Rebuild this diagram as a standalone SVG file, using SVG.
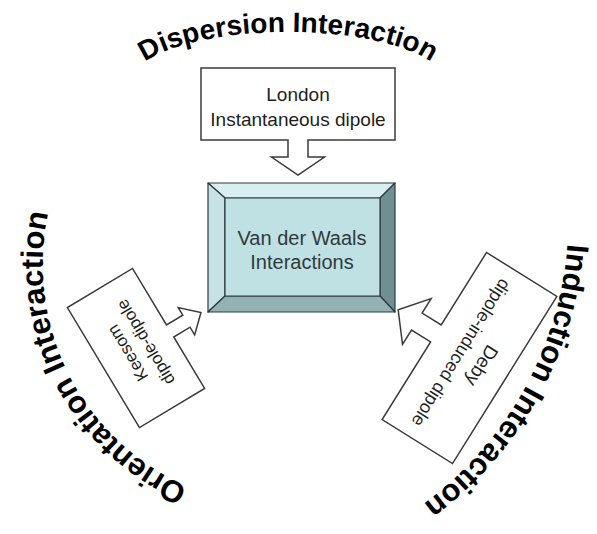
<svg xmlns="http://www.w3.org/2000/svg" width="597" height="534" viewBox="0 0 597 534">
<style>
.arc{font-family:"Liberation Sans",Arial,sans-serif;font-weight:bold;fill:#000}
.co{fill:#fff;stroke:#3a3a3a;stroke-width:1.5;stroke-linejoin:miter}
.ct{font-family:"Liberation Sans",Arial,sans-serif;fill:#1e1e1e;text-anchor:middle}
.bv{stroke:#2e3b3c;stroke-width:1.2;stroke-linejoin:round}
.vt{font-family:"Liberation Sans",Arial,sans-serif;font-size:20px;fill:#2f3a3a;text-anchor:middle}
</style>
<defs>
<path id="pTop" d="M 131,83 A 157,51 0 0 1 445,83"/>
<path id="pLeft" d="M 243.2,503.3 A 242,242 0 0 1 67.4,158.3"/>
<path id="pRight" d="M 563.1,155.2 A 356,356 0 0 1 345.9,547.1"/>
</defs>
<rect width="597" height="534" fill="#fff"/>

<g id="dispersion-label">
<text class="arc" font-size="28"><textPath href="#pTop" startOffset="50%" text-anchor="middle">Dispersion Interaction</textPath></text>
</g>
<g id="orientation-label">
<text class="arc" font-size="31"><textPath href="#pLeft" startOffset="50%" text-anchor="middle">Orientation Interaction</textPath></text>
</g>
<g id="induction-label">
<text class="arc" font-size="31"><textPath href="#pRight" startOffset="50%" text-anchor="middle">Induction Interaction</textPath></text>
</g>

<g id="vdw">
<polygon class="bv" points="208,183 395,183 380,198 225,198" fill="#d8eef0"/>
<polygon class="bv" points="208,183 225,198 225,296 208,312" fill="#c6e2e5"/>
<polygon class="bv" points="395,183 395,312 380,296 380,198" fill="#6f8f92"/>
<polygon class="bv" points="208,312 395,312 380,296 225,296" fill="#93b2b4"/>
<rect class="bv" x="225" y="198" width="155" height="98" fill="#bfe1e4"/>
<text class="vt" x="302" y="245">Van der Waals</text>
<text class="vt" x="302" y="269">Interactions</text>
</g>

<g id="london" transform="translate(298,104)">
<path class="co" d="M -97,-36 H 97 V 36 H 10 V 53 H 26.5 L 0,71 L -26.5,53 H -10 V 36 H -97 Z"/>
<text class="ct" font-size="19" x="0" y="-3">London</text>
<text class="ct" font-size="19" x="0" y="22">Instantaneous dipole</text>
</g>

<g id="keesom" transform="translate(136,348) rotate(-121)">
<path class="co" d="M -70,-38 H 70 V 38 H 4 V 57 H 13 L -3,74 L -19,57 H -10 V 38 H -70 Z"/>
<text class="ct" font-size="17" x="0" y="-4">Keesom</text>
<text class="ct" font-size="17" x="0" y="17">dipole-dipole</text>
</g>

<g id="debye" transform="translate(469.5,358) rotate(122)">
<path class="co" d="M -98.5,-41.5 H 98.5 V 41.5 H 7 V 64 H 24 L -3,86 L -30,64 H -13 V 41.5 H -98.5 Z"/>
<text class="ct" font-size="19" x="0" y="-8">Deby</text>
<text class="ct" font-size="18" x="0" y="16">dipole-induced dipole</text>
</g>

<g id="connectors"></g>
</svg>
